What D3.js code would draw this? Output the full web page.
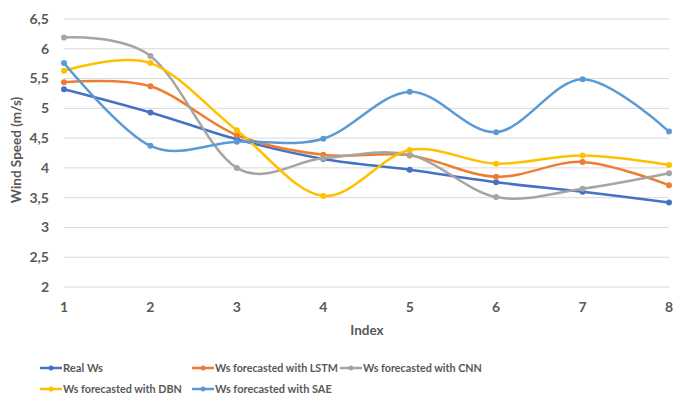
<!DOCTYPE html>
<html><head><meta charset="utf-8">
<script src="https://cdn.jsdelivr.net/npm/d3@7"></script>
<style>body{margin:0;background:#fff}svg{display:block}</style>
</head><body>
<svg id="chart" width="673" height="400"></svg>
<script>
const indexes = [1,2,3,4,5,6,7,8];
const realWs = [5.32,4.93,4.48,4.15,3.97,3.76,3.60,3.42];
const lstm   = [5.44,5.37,4.55,4.22,4.21,3.85,4.10,3.71];
const cnn    = [6.19,5.88,4.00,4.16,4.22,3.51,3.65,3.91];
const dbn    = [5.63,5.76,4.63,3.53,4.30,4.07,4.21,4.05];
const sae    = [5.76,4.37,4.44,4.49,5.28,4.60,5.49,4.61];
const yTicks = [2,2.5,3,3.5,4,4.5,5,5.5,6,6.5];
const seriesNames = ["Real Ws","Ws forecasted with LSTM","Ws forecasted with CNN","Ws forecasted with DBN","Ws forecasted with SAE"];
const seriesColors = ["#4472C4","#ED7D31","#A5A5A5","#FFC000","#5B9BD5"];
const seriesValues = [realWs,lstm,cnn,dbn,sae];

const svg = d3.select("#chart");
const font = "Lato, 'Open Sans', sans-serif";
const x = d3.scaleLinear().domain([1,8]).range([64,669]);
const y = d3.scaleLinear().domain([2,6.5]).range([287,19]);

// gridlines
svg.append("g").selectAll("line").data(yTicks).join("line")
  .attr("x1",64).attr("x2",669).attr("y1",d=>y(d)).attr("y2",d=>y(d))
  .attr("stroke","#D9D9D9").attr("stroke-width",1);

// y labels
const fmt = d => String(d).replace(".",",");
svg.append("g").selectAll("text").data(yTicks).join("text")
  .attr("x",49).attr("y",d=>y(d)).attr("dy","0.35em").attr("text-anchor","end")
  .attr("font-family",font).attr("font-size",14).attr("font-weight",700).attr("fill","#595959")
  .text(fmt);

// x labels
svg.append("g").selectAll("text").data(indexes).join("text")
  .attr("x",d=>x(d)).attr("y",307).attr("dy","0.35em").attr("text-anchor","middle")
  .attr("font-family",font).attr("font-size",14).attr("font-weight",700).attr("fill","#595959")
  .text(d=>d);

// axis titles
svg.append("text").attr("x",367).attr("y",330).attr("dy","0.35em").attr("text-anchor","middle")
  .attr("font-family",font).attr("font-size",13.5).attr("font-weight",700).attr("fill","#595959").text("Index");
svg.append("text").attr("transform","translate(16,150) rotate(-90)").attr("dy","0.35em").attr("text-anchor","middle")
  .attr("font-family",font).attr("font-size",13.5).attr("font-weight",700).attr("fill","#595959").text("Wind Speed (m/s)");

// lines
const line = d3.line().x((d,i)=>x(indexes[i])).y(d=>y(d)).curve(d3.curveCardinal.tension(0));
seriesValues.forEach((vals,k)=>{
  const g = svg.append("g");
  g.append("path").datum(vals).attr("d",line).attr("fill","none")
    .attr("stroke",seriesColors[k]).attr("stroke-width",2.5);
  g.selectAll("circle").data(vals).join("circle")
    .attr("cx",(d,i)=>x(indexes[i])).attr("cy",d=>y(d)).attr("r",3)
    .attr("fill",seriesColors[k]);
});

// legend
const legendPos = [[40,368],[192,368],[340,368],[40,389],[192,389]];
const legendWidths = [40,123,119,119,117];
seriesNames.forEach((n,k)=>{
  const [lx,ly] = legendPos[k];
  const g = svg.append("g");
  g.append("line").attr("x1",lx).attr("x2",lx+22).attr("y1",ly).attr("y2",ly)
    .attr("stroke",seriesColors[k]).attr("stroke-width",2.5);
  g.append("circle").attr("cx",lx+11).attr("cy",ly).attr("r",2.5).attr("fill",seriesColors[k]);
  const t = g.append("text").attr("x",lx+23).attr("y",ly).attr("dy","0.35em")
    .attr("font-family",font).attr("font-size",14).attr("font-weight",700).attr("fill","#595959").text(n);
  const w = t.node().getComputedTextLength();
  t.attr("font-size", Math.min(14, 14*legendWidths[k]/w));
});
</script>
</body></html>
